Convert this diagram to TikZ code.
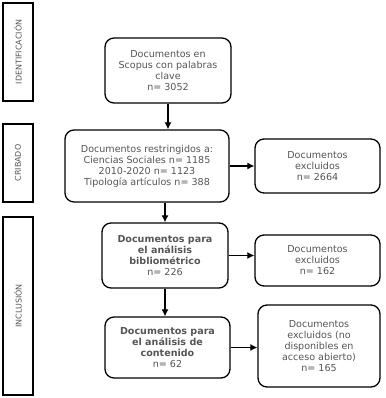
\documentclass[tikz,border=0pt]{standalone}
\usepackage{fontspec}
\setmainfont{DejaVu Sans}
\usepackage{tikz}
\usetikzlibrary{arrows.meta, positioning, calc}
\definecolor{textgray}{RGB}{85,85,85}

\tikzset{
  stagebox/.style={draw, line width=1.1bp, rotate=90, text=textgray,
    font=\fontsize{8}{9}\selectfont, minimum height=30bp, inner sep=0pt},
  docbox/.style={draw, line width=1.3bp, rounded corners=9bp, align=center,
    text=textgray, font=\fontsize{9.6}{11}\selectfont, inner sep=1bp},
  flow/.style={line width=1.1bp, -{Latex[length=7bp,width=7bp]}}
}

\begin{document}
\begin{tikzpicture}[x=1bp, y=-1bp]
  \useasboundingbox (0,0) rectangle (386,398);

  % Stage labels
  \node[stagebox, minimum width=98bp] (ident) at (18,52) {IDENTIFICACIÓN};
  \node[stagebox, minimum width=78bp] (crib) at (18,163) {CRIBADO};
  \node[stagebox, minimum width=178bp] (incl) at (18,306) {INCLUSIÓN};

  % Main boxes
  \node[docbox, minimum width=126bp, minimum height=65bp] (docs) at (168,70.5)
    {Documentos en\\Scopus con palabras\\clave\\n= 3052};
  \node[docbox, minimum width=164bp, minimum height=72bp] (restr) at (147,166)
    {Documentos restringidos a:\\Ciencias Sociales n= 1185\\2010-2020 n= 1123\\Tipología artículos n= 388};
  \node[docbox, minimum width=126bp, minimum height=65bp] (biblio) at (165,255.5)
    {\textbf{Documentos para}\\\textbf{el análisis}\\\textbf{bibliométrico}\\n= 226};
  \node[docbox, minimum width=125bp, minimum height=61bp] (conten) at (167.5,347.5)
    {\textbf{Documentos para}\\\textbf{el análisis de}\\\textbf{contenido}\\n= 62};

  % Excluded
  \node[docbox, minimum width=125bp, minimum height=54bp] (excl1) at (317.5,166)
    {Documentos\\excluidos\\n= 2664};
  \node[docbox, minimum width=125bp, minimum height=51bp] (excl2) at (317.5,260.5)
    {Documentos\\excluidos\\n= 162};
  \node[docbox, minimum width=122bp, minimum height=82bp] (excl3) at (319,346)
    {Documentos\\excluidos (no\\disponibles en\\acceso abierto)\\n= 165};

  % Arrows
  \draw[flow] (docs.south) -- (docs.south |- restr.north);
  \draw[flow] (biblio.north |- restr.south) -- (biblio.north);
  \draw[flow] (biblio.south) -- (biblio.south |- conten.north);
  \draw[flow] (restr.east) -- (restr.east -| excl1.west);
  \draw[flow] (biblio.east) -- (biblio.east -| excl2.west);
  \draw[flow] (conten.east) -- (conten.east -| excl3.west);
\end{tikzpicture}
\end{document}
